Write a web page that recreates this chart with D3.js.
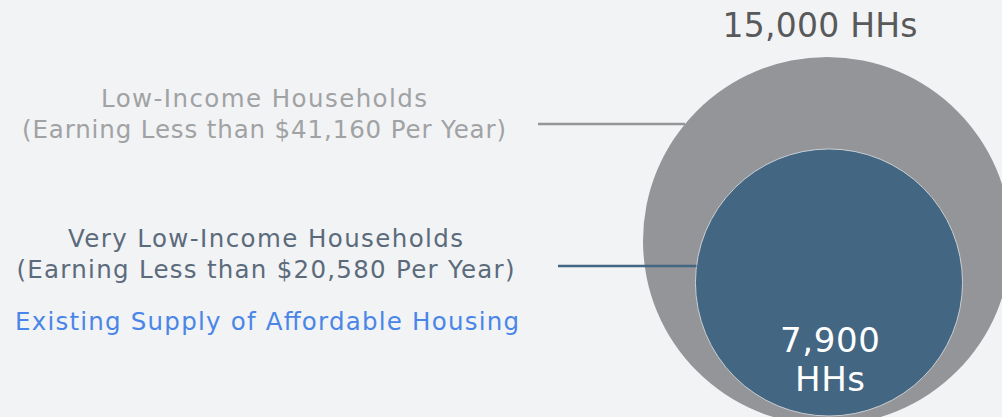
<!DOCTYPE html>
<html>
<head>
<meta charset="utf-8">
<script src="https://cdn.jsdelivr.net/npm/d3@7"></script>
<style>
  html, body { margin: 0; padding: 0; background: #f2f3f5; }
  svg { display: block; }
  text { font-family: "DejaVu Sans", sans-serif; }
</style>
</head>
<body>
<svg width="1002" height="417"></svg>
<script>
// data
var groups = ["Low-Income Households", "Very Low-Income Households"];
var incomeLimits = ["$41,160", "$20,580"];
var households = [15000, 7900];
var supplyLabel = "Existing Supply of Affordable Housing";

var svg = d3.select("svg");

var rScale = d3.scaleSqrt().domain([0, d3.max(households)]).range([0, 184]);
var fmt = d3.format(",");

// circle layout
var circles = [
    {cx: 827, cy: 241, fill: "#939598", stroke: "none"},
    {cx: 829, cy: 282.5, fill: "#436682", stroke: "#c9ced4"}
];
circles.forEach(function (c, i) { c.r = rScale(households[i]); c.value = households[i]; });

svg.selectAll("circle.bubble")
    .data(circles)
    .enter()
    .append("circle")
    .attr("class", "bubble")
    .attr("cx", function (d) { return d.cx; })
    .attr("cy", function (d) { return d.cy; })
    .attr("r", function (d) { return d.r; })
    .attr("fill", function (d) { return d.fill; })
    .attr("stroke", function (d) { return d.stroke; })
    .attr("stroke-width", 1);

// fit a text to a target width by spacing
function fit(sel, w) {
    sel.attr("textLength", w).attr("lengthAdjust", "spacing");
}

// labels on left
var labelColors = ["#a0a2a4", "#5b6b7c"];
var labelX = [264, 265.5];
var labelY = [107, 247];
var titleW = [326, 395];
var subW = [484, 498];
var lineStart = [538, 558];
var lineY = [124, 266];

groups.forEach(function (g, i) {
    var t = svg.append("text")
        .attr("text-anchor", "middle")
        .attr("fill", labelColors[i])
        .attr("font-size", 24.5);
    t.append("tspan").attr("x", labelX[i]).attr("y", labelY[i]).text(g)
        .call(fit, titleW[i]);
    t.append("tspan").attr("x", labelX[i]).attr("y", labelY[i] + 30.5)
        .text("(Earning Less than " + incomeLimits[i] + " Per Year)")
        .call(fit, subW[i]);

    var c = circles[i];
    var dy = lineY[i] - c.cy;
    var xEnd = c.cx - Math.sqrt(c.r * c.r - dy * dy);
    svg.append("line")
        .attr("x1", lineStart[i]).attr("x2", xEnd)
        .attr("y1", lineY[i]).attr("y2", lineY[i])
        .attr("stroke", i === 0 ? "#939598" : "#436682")
        .attr("stroke-width", 2.5);
});

svg.append("text")
    .attr("x", 15)
    .attr("y", 330)
    .attr("fill", "#4a86e8")
    .attr("font-size", 24.5)
    .text(supplyLabel)
    .call(fit, 504);

// value labels
svg.append("text")
    .attr("x", 820)
    .attr("y", 37)
    .attr("text-anchor", "middle")
    .attr("fill", "#58595b")
    .attr("font-size", 33)
    .text(fmt(households[0]) + " HHs")
    .call(fit, 195);

var inner = svg.append("text")
    .attr("text-anchor", "middle")
    .attr("fill", "#ffffff")
    .attr("font-size", 34);
inner.append("tspan").attr("x", 830).attr("y", 352).text(fmt(households[1]))
    .call(fit, 100);
inner.append("tspan").attr("x", 830).attr("y", 391).text("HHs")
    .call(fit, 70);
</script>
</body>
</html>
